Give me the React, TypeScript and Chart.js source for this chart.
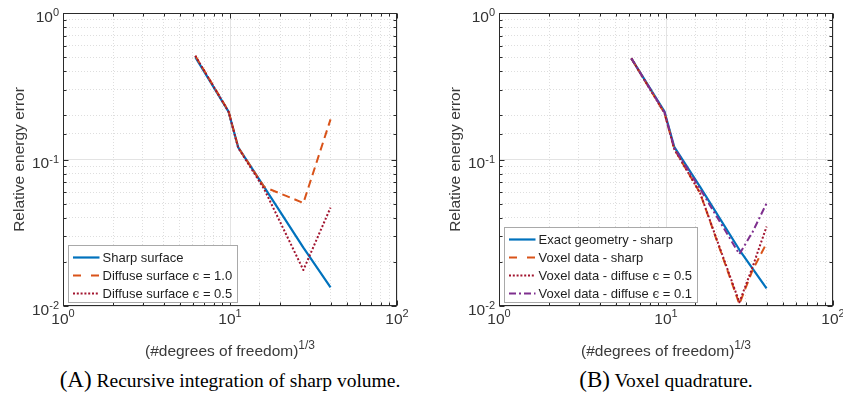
import React, { useEffect, useRef } from 'react';
import { Chart, registerables } from 'chart.js';

Chart.register(...registerables);

// ---------------- Data ----------------
const dofA = [6.2, 9.8, 11.2, 16.0, 27.5, 40.0];
const sharpSurfaceA = [0.5, 0.212, 0.121, 0.065, 0.025, 0.0134];
const diffuse10A = [0.51, 0.214, 0.121, 0.065, 0.0505, 0.188];
const diffuse05A = [0.51, 0.212, 0.12, 0.063, 0.0176, 0.047];

const dofB = [6.2, 9.8, 11.2, 16.0, 27.5, 33.0, 40.0];
const exactSharpB = [0.49, 0.212, 0.122, 0.065, 0.0242, 0.018, 0.0132];
const voxelSharpB = [0.49, 0.207, 0.118, 0.059, 0.0103, 0.0176, 0.0268];
const voxelDiff05B = [0.49, 0.207, 0.118, 0.059, 0.0106, 0.0185, 0.0348];
const voxelDiff01B = [0.49, 0.21, 0.12, 0.063, 0.0226, 0.032, 0.0502];

const labelsA = ['Sharp surface', 'Diffuse surface ϵ = 1.0', 'Diffuse surface ϵ = 0.5'];
const labelsB = [
  'Exact geometry - sharp',
  'Voxel data - sharp',
  'Voxel data - diffuse ϵ = 0.5',
  'Voxel data - diffuse ϵ = 0.1',
];

const xTitleText = '(#degrees of freedom)';
const xTitleSup = '1/3';
const yTitleText = 'Relative energy error';
const captionA = ['(A)', ' Recursive integration of sharp volume.'];
const captionB = ['(B)', ' Voxel quadrature.'];

// ---------------- Styles ----------------
const FONT = '"Liberation Sans", Arial, Helvetica, sans-serif';
const AXIS = '#2b2b2b';
const GRID_MAJOR = '#e3e3e3';
const GRID_MINOR = '#dedede';
const BLUE = '#0072BD';
const ORANGE = '#D95319';
const DARKRED = '#A2142F';
const PURPLE = '#7E2F8E';

type Style = { color: string; dash: number[]; legendDash: number[]; width: number };
const SOLID: Style = { color: BLUE, dash: [], legendDash: [], width: 2.2 };
const DASHED: Style = { color: ORANGE, dash: [8, 5], legendDash: [8, 10], width: 2 };
const DOTTED: Style = { color: DARKRED, dash: [2, 2], legendDash: [2, 1.8], width: 2 };
const DASHDOT: Style = { color: PURPLE, dash: [7, 3, 2, 3], legendDash: [7, 3, 2, 3], width: 2 };

function isMajor(v: number) {
  const l = Math.log10(v);
  return Math.abs(l - Math.round(l)) < 1e-6;
}

function drawSup(
  ctx: CanvasRenderingContext2D,
  base: string,
  sup: string,
  x: number,
  y: number,
  align: 'center' | 'right' | 'left',
  baseSize: number,
  supSize: number,
  raise: number
) {
  ctx.font = `${baseSize}px ${FONT}`;
  const wb = ctx.measureText(base).width;
  ctx.font = `${supSize}px ${FONT}`;
  const ws = ctx.measureText(sup).width;
  const total = wb + ws;
  const x0 = align === 'center' ? x - total / 2 : align === 'right' ? x - total : x;
  ctx.textAlign = 'left';
  ctx.textBaseline = 'alphabetic';
  ctx.font = `${baseSize}px ${FONT}`;
  ctx.fillText(base, x0, y);
  ctx.font = `${supSize}px ${FONT}`;
  ctx.fillText(sup, x0 + wb, y - raise);
}

const LEG_FONT = 13;
function segs(label: string) {
  const parts = label.split('ϵ');
  const out: { t: string; eps: boolean }[] = [];
  parts.forEach((p, i) => {
    if (i > 0) out.push({ t: 'ϵ', eps: true });
    if (p) out.push({ t: p, eps: false });
  });
  return out;
}
function segFont(eps: boolean) {
  return eps ? `12px "DejaVu Serif", serif` : `${LEG_FONT}px ${FONT}`;
}

const matlabAxes = {
  id: 'matlabAxes',
  afterDraw(chart: any) {
    const { ctx, chartArea: a, scales } = chart;
    const xs = scales.x;
    const ys = scales.y;
    const L = Math.round(a.left) + 0.5;
    const R = Math.round(a.right) - 0.5;
    const T = Math.round(a.top) + 0.5;
    const B = Math.round(a.bottom) - 0.5;
    ctx.save();
    // ticks
    ctx.strokeStyle = AXIS;
    ctx.lineWidth = 1;
    ctx.beginPath();
    for (const t of xs.ticks) {
      const px = Math.round(xs.getPixelForValue(t.value)) + 0.5;
      const len = isMajor(t.value) ? 5 : 3;
      ctx.moveTo(px, B);
      ctx.lineTo(px, B - len);
      ctx.moveTo(px, T);
      ctx.lineTo(px, T + len);
    }
    for (const t of ys.ticks) {
      const py = Math.round(ys.getPixelForValue(t.value)) + 0.5;
      const len = isMajor(t.value) ? 5 : 3;
      ctx.moveTo(L, py);
      ctx.lineTo(L + len, py);
      ctx.moveTo(R, py);
      ctx.lineTo(R - len, py);
    }
    ctx.stroke();
    ctx.strokeRect(L, T, R - L, B - T);

    // tick labels
    ctx.fillStyle = '#333333';
    for (const t of xs.ticks) {
      if (!isMajor(t.value)) continue;
      const px = xs.getPixelForValue(t.value);
      drawSup(ctx, '10', String(Math.round(Math.log10(t.value))), px, a.bottom + 18, 'center', 15.5, 11, 7);
    }
    for (const t of ys.ticks) {
      if (!isMajor(t.value)) continue;
      const py = ys.getPixelForValue(t.value);
      drawSup(ctx, '10', String(Math.round(Math.log10(t.value))), a.left - 4, py + 8.5, 'right', 15.5, 11, 5.5);
    }

    // axis titles
    ctx.fillStyle = '#3a3a3a';
    drawSup(ctx, xTitleText, xTitleSup, (a.left + a.right) / 2, a.bottom + 50, 'center', 15.5, 12, 7.5);
    ctx.save();
    ctx.translate(a.left - 39.5, (a.top + a.bottom) / 2);
    ctx.rotate(-Math.PI / 2);
    ctx.font = `15.5px ${FONT}`;
    ctx.textAlign = 'center';
    ctx.textBaseline = 'alphabetic';
    ctx.fillText(yTitleText, 0, 0);
    ctx.restore();

    // legend
    const ds = chart.data.datasets;
    const n = ds.length;
    let maxW = 0;
    for (const d of ds) {
      let w = 0;
      for (const s of segs(d.label)) {
        ctx.font = segFont(s.eps);
        w += ctx.measureText(s.t).width;
      }
      maxW = Math.max(maxW, w);
    }
    const boxL = Math.round(a.left + 5) + 0.5;
    const boxH = n * 18 + 3;
    const boxB = Math.round(a.bottom - 4) + 0.5;
    const boxT = boxB - boxH;
    const boxW = Math.round(34 + maxW + 5);
    ctx.fillStyle = '#ffffff';
    ctx.fillRect(boxL, boxT, boxW, boxH);
    ctx.strokeStyle = '#a9a9a9';
    ctx.lineWidth = 1;
    ctx.strokeRect(boxL, boxT, boxW, boxH);
    ds.forEach((d: any, i: number) => {
      const cy = boxT + 12 + i * 18;
      ctx.save();
      ctx.strokeStyle = d.borderColor;
      ctx.lineWidth = d.borderWidth;
      ctx.setLineDash(d.legendDash || []);
      ctx.beginPath();
      ctx.moveTo(boxL + 4.5, cy);
      ctx.lineTo(boxL + 31, cy);
      ctx.stroke();
      ctx.restore();
      let tx = boxL + 34;
      ctx.fillStyle = '#1f1f1f';
      ctx.textBaseline = 'middle';
      ctx.textAlign = 'left';
      for (const s of segs(d.label)) {
        ctx.font = segFont(s.eps);
        ctx.fillText(s.t, tx, s.eps ? cy + 1 : cy + 0.5);
        tx += ctx.measureText(s.t).width;
      }
    });
    ctx.restore();
  },
};

type Series = { label: string; values: number[]; style: Style };

function LogChart(props: {
  width: number;
  height: number;
  padding: { left: number; right: number; top: number; bottom: number };
  xs: number[];
  series: Series[];
}) {
  const ref = useRef<HTMLCanvasElement | null>(null);
  useEffect(() => {
    if (!ref.current) return;
    const n = props.series.length;
    const datasets = props.series.map((s, i) => ({
      label: s.label,
      data: props.xs.map((x, j) => ({ x, y: s.values[j] })),
      borderColor: s.style.color,
      backgroundColor: s.style.color,
      borderWidth: s.style.width,
      borderDash: s.style.dash,
      legendDash: s.style.legendDash,
      borderCapStyle: 'butt',
      borderJoinStyle: 'round',
      pointRadius: 0,
      tension: 0,
      fill: false,
      order: n - i,
    }));
    const gridColor = (c: any) => (c.tick && !isMajor(c.tick.value) ? GRID_MINOR : GRID_MAJOR);
    const gridDash = (c: any) => (c.tick && !isMajor(c.tick.value) ? [1, 2] : []);
    const axis = (min: number, max: number) => ({
      type: 'logarithmic' as const,
      min,
      max,
      ticks: { display: false, autoSkip: false },
      grid: { color: gridColor, drawTicks: false, lineWidth: 1 },
      border: { display: false, dash: gridDash },
    });
    const chart = new Chart(ref.current, {
      type: 'line',
      data: { datasets: datasets as any },
      options: {
        animation: false,
        responsive: false,
        maintainAspectRatio: false,
        layout: { padding: props.padding },
        plugins: { legend: { display: false }, tooltip: { enabled: false } },
        scales: { x: axis(1, 100) as any, y: axis(0.01, 1) as any },
        elements: { point: { radius: 0 } },
      },
      plugins: [matlabAxes as any],
    });
    return () => chart.destroy();
  }, []);
  return (
    <canvas
      ref={ref}
      width={props.width}
      height={props.height}
      style={{ display: 'block', width: props.width, height: props.height }}
    />
  );
}

function Caption(props: { center: number; parts: string[] }) {
  return (
    <div
      style={{
        position: 'absolute',
        left: props.center - 250,
        width: 500,
        top: 367,
        textAlign: 'center',
        fontFamily: '"Liberation Serif", "Times New Roman", serif',
        fontSize: '19.5px',
        lineHeight: '26px',
        color: '#000',
        whiteSpace: 'nowrap',
      }}
    >
      <span style={{ fontSize: '23px' }}>{props.parts[0]}</span>
      <span>{props.parts[1]}</span>
    </div>
  );
}

export default function App() {
  const seriesA: Series[] = [
    { label: labelsA[0], values: sharpSurfaceA, style: SOLID },
    { label: labelsA[1], values: diffuse10A, style: DASHED },
    { label: labelsA[2], values: diffuse05A, style: DOTTED },
  ];
  const seriesB: Series[] = [
    { label: labelsB[0], values: exactSharpB, style: SOLID },
    { label: labelsB[1], values: voxelSharpB, style: DASHED },
    { label: labelsB[2], values: voxelDiff05B, style: DOTTED },
    { label: labelsB[3], values: voxelDiff01B, style: DASHDOT },
  ];
  return (
    <div
      style={{
        position: 'fixed',
        left: 0,
        top: 0,
        width: 843,
        height: 401,
        background: '#fff',
        overflow: 'hidden',
      }}
    >
      <div style={{ position: 'absolute', left: 0, top: 0 }}>
        <LogChart
          width={421}
          height={364}
          padding={{ left: 63, right: 24, top: 13, bottom: 58 }}
          xs={dofA}
          series={seriesA}
        />
      </div>
      <div style={{ position: 'absolute', left: 421, top: 0 }}>
        <LogChart
          width={422}
          height={364}
          padding={{ left: 78, right: 10, top: 13, bottom: 58 }}
          xs={dofB}
          series={seriesB}
        />
      </div>
      <Caption center={230} parts={captionA} />
      <Caption center={666} parts={captionB} />
    </div>
  );
}
